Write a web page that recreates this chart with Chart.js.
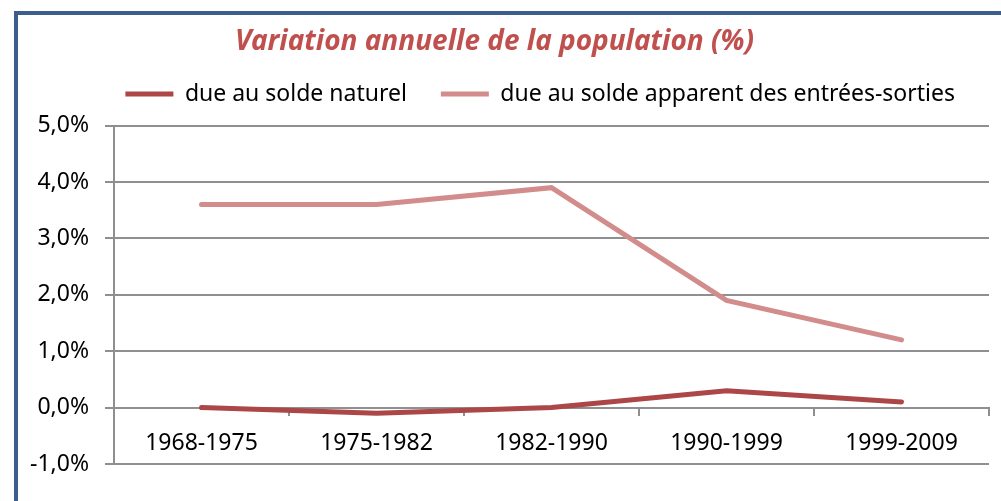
<!DOCTYPE html>
<html lang="fr">
<head>
<meta charset="utf-8">
<title>Variation annuelle de la population</title>
<script src="https://cdn.jsdelivr.net/npm/chart.js@4"></script>
<style>
  html, body { margin: 0; padding: 0; background: #fff; overflow: hidden; }
  #cadre {
    position: absolute; left: 14px; top: 11px;
    width: 1100px; height: 600px;
    border: 4px solid #3b5e8c;
  }
  #graph { position: absolute; left: 0; top: 0; }
</style>
</head>
<body>
<div id="cadre"></div>
<canvas id="graph" width="1001" height="501"></canvas>
<script>
// périodes intercensitaires
const periodes = ['1968-1975', '1975-1982', '1982-1990', '1990-1999', '1999-2009'];
// variation annuelle en %
const soldeNaturel = [0.0, -0.1, 0.0, 0.3, 0.1];
const soldeApparent = [3.6, 3.6, 3.9, 1.9, 1.2];
// graduations de l'axe vertical
const yMin = -1;
const yMax = 5;
const yPas = 1;

const gris = '#8f8f8f';
const police = '"Noto Sans", sans-serif';

function formatPct(v) {
    return v.toFixed(1).replace('.', ',') + '%';
}

// un peu d'air entre la légende et le haut du graphique
const margeLegende = {
    id: 'margeLegende',
    beforeLayout(chart) {
        const leg = chart.legend;
        if (!leg || leg._margeOk) return;
        const fitOrig = leg.fit;
        leg.fit = function () {
            fitOrig.call(this);
            this.height += 10;
        };
        leg._margeOk = true;
    }
};

const ctx = document.getElementById('graph').getContext('2d');
new Chart(ctx, {
    type: 'line',
    data: {
        labels: periodes,
        datasets: [
            {
                label: 'due au solde naturel',
                data: soldeNaturel,
                borderColor: '#ad4646',
                backgroundColor: '#ad4646',
                borderWidth: 5,
                borderCapStyle: 'round',
                pointRadius: 0,
                pointHoverRadius: 0,
                pointStyle: 'line',
                tension: 0
            },
            {
                label: 'due au solde apparent des entrées-sorties',
                data: soldeApparent,
                borderColor: '#d28c8b',
                backgroundColor: '#d28c8b',
                borderWidth: 5,
                borderCapStyle: 'round',
                pointRadius: 0,
                pointHoverRadius: 0,
                pointStyle: 'line',
                tension: 0
            }
        ]
    },
    plugins: [margeLegende],
    options: {
        responsive: false,
        animation: false,
        devicePixelRatio: 1,
        layout: {
            padding: { left: 0, right: 12, top: 0, bottom: 37 }
        },
        plugins: {
            title: {
                display: true,
                text: 'Variation annuelle de la population (%)',
                color: '#c0504d',
                font: { family: police, size: 28, weight: 'bold', style: 'italic' },
                padding: { top: 25, bottom: -10 }
            },
            legend: {
                position: 'top',
                align: 'end',
                labels: {
                    color: '#000',
                    font: { family: police, size: 23 },
                    usePointStyle: true,
                    pointStyleWidth: 48,
                    padding: 34
                }
            },
            tooltip: { enabled: false }
        },
        scales: {
            x: {
                type: 'category',
                position: { y: 0 },
                offset: true,
                grid: {
                    offset: true,
                    drawOnChartArea: false,
                    drawTicks: true,
                    tickLength: 7,
                    color: gris,
                    lineWidth: 2
                },
                border: { color: gris, width: 2 },
                ticks: {
                    color: '#000',
                    font: { family: police, size: 23 },
                    padding: 15,
                    maxRotation: 0
                }
            },
            y: {
                min: yMin,
                max: yMax,
                afterFit: s => { s.width = 114; },
                grid: {
                    color: gris,
                    lineWidth: 2,
                    drawTicks: true,
                    tickLength: 9
                },
                border: { color: gris, width: 2 },
                ticks: {
                    stepSize: yPas,
                    color: '#000',
                    font: { family: police, size: 23 },
                    padding: 16,
                    callback: v => formatPct(v)
                }
            }
        }
    }
});
</script>
</body>
</html>
